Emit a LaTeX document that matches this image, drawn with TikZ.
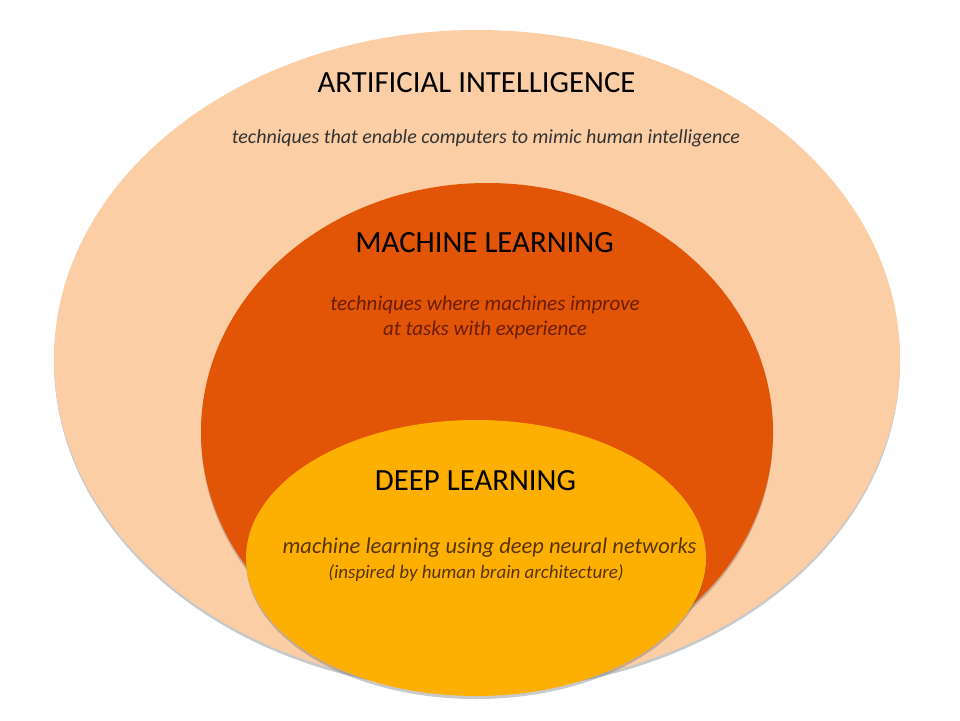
\documentclass[tikz,border=0pt]{standalone}
\usepackage{fontspec}
\setmainfont{Carlito}
\usetikzlibrary{shapes.geometric,shadows}
\definecolor{aicol}{HTML}{FBCEA5}
\definecolor{mlcol}{HTML}{E25406}
\definecolor{dlcol}{HTML}{FDB002}
\definecolor{aitext}{HTML}{333333}
\definecolor{mltext}{HTML}{6A1F00}
\definecolor{dltext}{HTML}{5A3400}
\tikzset{
  blob/.style={ellipse, inner sep=0pt, draw=none,
    drop shadow={shadow xshift=0pt, shadow yshift=-3pt, opacity=0.35, fill=black!60}},
  titletext/.style={anchor=base, font=\fontsize{30.8}{36}\selectfont, text=black, inner sep=0pt},
  desctext/.style={anchor=base, font=\fontsize{20}{25}\selectfont\itshape, inner sep=0pt, align=center},
}
\begin{document}
\begin{tikzpicture}[x=1pt,y=-1pt]
  \fill[white] (0,0) rectangle (960,720);
  \useasboundingbox (0,0) rectangle (960,720);
  \node[blob, fill=aicol, minimum width=846pt, minimum height=658pt] (ai) at (477,359) {};
  \node[blob, fill=mlcol, minimum width=572pt, minimum height=498pt] (ml) at (487,432) {};
  \node[blob, fill=dlcol, minimum width=460pt, minimum height=276pt] (dl) at (476,558) {};
  \node[titletext] (aititle) at (476.5,92) {ARTIFICIAL INTELLIGENCE};
  \node[desctext, text=aitext] (aidesc) at (486,143) {techniques that enable computers to mimic human intelligence};
  \node[titletext] (mltitle) at (484.5,252) {MACHINE LEARNING};
  \node[desctext, text=mltext, font=\fontsize{21}{25}\selectfont\itshape] (mldesc1) at (485,310) {techniques where machines improve};
  \node[desctext, text=mltext, font=\fontsize{21}{25}\selectfont\itshape] (mldesc2) at (485,335) {at tasks with experience};
  \node[titletext] (dltitle) at (475.5,490) {DEEP LEARNING};
  \node[desctext, text=dltext, font=\fontsize{22.5}{26}\selectfont\itshape] (dldesc1) at (489.5,553) {machine learning using deep neural networks};
  \node[desctext, text=dltext, font=\fontsize{19}{22}\selectfont\itshape] (dldesc2) at (476,578) {(inspired by human brain architecture)};
\end{tikzpicture}
\end{document}
